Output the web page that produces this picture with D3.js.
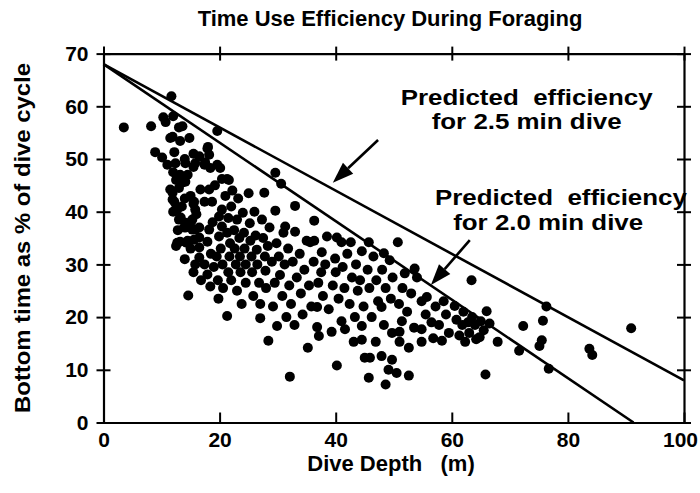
<!DOCTYPE html>
<html><head><meta charset="utf-8">
<script src="https://cdn.jsdelivr.net/npm/d3@7"></script>
<style>body{margin:0;background:#fff}svg{display:block}text{font-family:"Liberation Sans",Arial,sans-serif;font-weight:bold;fill:#000;white-space:pre}</style>
</head><body><div id="chart"></div>
<script>
const title = "Time Use Efficiency During Foraging";
const xLabel = "Dive Depth   (m)";
const yLabel = "Bottom time as % of dive cycle";
const xTicks = [0, 20, 40, 60, 80, 100];
const yTicks = [0, 10, 20, 30, 40, 50, 60, 70];
// predicted efficiency lines: [depth, %]
const line25 = [[0, 68], [100, 8]];
const line20 = [[0, 68], [91.3, 0]];
// annotation text lines: [text, centre depth, baseline %]
const notes25 = [["Predicted  efficiency", 72.9, 60.3], ["for 2.5 min dive", 72.9, 55.6]];
const notes20 = [["Predicted  efficiency", 78.8, 41.2], ["for 2.0 min dive", 76.6, 36.5]];
// arrows: [from depth, from %, to depth, to %]
const arrows = [[47.3, 53.6, 39.5, 45.5], [63.1, 34.6, 56.4, 26.1]];
// observed dives: [depth (m), bottom time %]
const dives = [
[3.5,56],[8.2,56.2],[8.9,51.3],[10.1,50.3],[10.3,57.9],[10.7,57],[11.7,61.9],[11.5,54],[11,48.9],[11.9,54.2],[11.5,44.2],[11.9,42.3],[11.9,43.6],[12,58.1],[12,47.5],[12,40],[12.2,51.3],[12.2,41.9],[12.4,49.2],[12.4,40.4],[12.5,46],[12.5,33.5],[12.7,40.4],[12.7,34.1],[12.8,36.5],
[13,56],[13.2,53.4],[13.6,56.2],[13.2,47],[13,44.5],[13.5,45.5],[13,38.5],[13.3,38.9],[13.2,34.3],[13.5,41],[13.9,37],[14,50],[14.1,49.2],[14.1,45.7],[14,42.5],[14.1,37.9],[14,31],[14.3,34.1],[14.6,24.1],[14.8,54],[14.5,47],[14.5,34.5],[14.2,37],[15,43],[15,38],[15,33],[15.3,36.6],[15.3,38.5],[15.5,51],[15.5,48.5],[15.5,41.5],[15.6,41.9],[15.6,34.7],[15.8,49.2],[15.8,40.4],[15.8,36.6],[15.8,30],[15.5,28.5],
[16,39.5],[16.5,50.5],[16.5,37],[16.5,35.1],[16.5,33.2],[16.5,31.3],[16.7,44.2],[16.8,27],[17.4,48.9],[17.4,41.9],[17.4,30],[17.5,49.4],[17.9,52],[17.9,34.3],[17.9,28.1],[18,52.3],[18.2,50.8],[18.2,44.2],[18.2,36.6],[18.4,48.3],[18.4,25.8],[18.7,41.9],[18.5,32],[18.8,38],[19,29.5],[19.2,45],[19.6,48.9],[19.6,55.3],[19.9,39.1],[19.9,35.3],[19.5,31.5],[19.7,27],[19.8,23.5],
[20.1,48.3],[20.4,46.2],[20.4,40.4],[20.4,37.2],[20.2,33],[20.5,30],[20.6,25.5],[21.3,46.2],[21.3,20.2],[21.3,36],[21.6,46],[21,43],[21.5,38.8],[21.8,34],[21.7,31.5],[21.5,28.5],[22,27],[22,41],[22.2,44],[22.5,36.5],[22.6,33],[22.8,30],[23,38.5],[23,25],[23.2,42.5],[23.4,35],[23.5,31.5],[23.6,28.5],[23.8,22.5],[24,39.8],[24.2,36],[24.3,33],[24.5,30],[24.5,26.5],
[25,43.5],[25.2,37.8],[25.3,34.5],[25.5,31.5],[25.6,28.5],[25.8,24],[26,40],[26.2,35.5],[26.4,32.8],[26.5,30],[26.8,26.5],[27,22.5],[27,19.8],[27.3,38.5],[27.5,35],[27.7,43.6],[27.8,31.5],[27.9,28.8],[28,25.5],[28.4,15.5],[28.3,33.5],[28.6,37],
[29,30.5],[29.2,22],[29.6,40.2],[29.6,47.4],[29.9,18.3],[29.5,26.5],[29.8,34],[30.2,31.5],[30.4,28],[30.6,45.3],[30.8,24],[31,36],[31.3,37.2],[31.2,30],[31.5,20],[31.8,33],[32,26],[32.1,8.7],[32.3,22.5],[32.6,30.5],[33,41.1],[33,36.2],[32.9,18.5],[33.3,27.5],
[33.8,32],[34,24.5],[34.3,20.5],[34.6,29],[35,34.5],[35.2,14.2],[35.4,26],[35.6,34.2],[35.8,22],[36.3,38.3],[36.3,34.5],[36.2,30.5],[36.8,18.1],[36.8,21.9],[37,26.5],[37.1,16.4],[37.6,32.3],[37.5,28.5],[37.8,24],[38.5,35.3],[38.8,21.5],[38.2,30],
[39.3,17.2],[39.9,31.1],[39.5,26],[40.2,35.1],[40.2,10.8],[40,28.5],[40.5,23.5],[41,34.2],[41,19.2],[41.6,17.7],[41.2,29.5],[41.5,25.5],[42,32],[42.6,34.2],[42.4,22.5],[42.8,27.5],[43.1,15.3],[43.5,30],[43.3,20],[43.8,25],[44.5,32.5],[44.5,15.7],[44.5,18.3],[44.2,27],[44.8,22],
[45,12.3],[45.7,8.5],[45.7,34.2],[45.9,12.3],[45.5,29],[45.8,25.5],[46.2,20],[46.9,15.3],[46.5,31.5],[47,27],[47.3,23],[47.9,12.6],[47.9,21.9],[48.3,18.5],[48.3,32.1],[48.6,7.2],[48,29],[48.6,25.5],[49.1,10],[49.3,30.8],[49.7,11.9],[49.7,17],[49.5,23.5],[49.8,27.5],
[50.5,9.4],[50.7,34.2],[50.9,22.5],[51,17.2],[51,15.3],[51.4,19.2],[51.9,28.3],[51.5,25.5],[52.6,8.9],[52.6,14.2],[52.3,21],[53,24.5],[53.6,29.2],[53.5,18],[54,27.5],[54.8,23],[54.8,15.3],[54.8,17.7],[55.5,20.5],[55.7,23.8],
[56.5,19],[56.8,16],[57.2,22],[57.8,18.5],[58.6,23],[58.3,15.5],[59,20.5],[59.5,17],[60.5,22.1],[60.8,19.5],[61.3,16.5],[61.8,18.5],[62,21],[62.3,15.3],[62.8,19],[63.4,27],[63,17],[63.5,20],[64,18.5],[64.2,15.8],[64.8,16.2],[65,19.2],[65.5,17.5],[65.8,9.1],[66,21.1],[66.5,18.8],[67.9,15.3],
[71.6,13.6],[72.3,18.3],[75.1,14.5],[75.5,15.6],[75.7,19.3],[76.3,22],[76.7,10.2],[83.7,14],[84.2,12.8],[90.9,17.9]
];

const W = 700, H = 493;
const m = {left: 103.5, right: 16, top: 53.6, bottom: 70.5};
const svg = d3.select("#chart").append("svg").attr("width", W).attr("height", H);
const x = d3.scaleLinear().domain([0, 100]).range([m.left, W - m.right]);
const y = d3.scaleLinear().domain([0, 70]).range([H - m.bottom, m.top]);

// dots
svg.append("g").selectAll("circle").data(dives).join("circle")
  .attr("cx", d => x(d[0])).attr("cy", d => y(d[1])).attr("r", 5).attr("fill", "#000");

// predicted lines
const lineGen = d3.line().x(d => x(d[0])).y(d => y(d[1]));
[line25, line20].forEach(l => svg.append("path").attr("d", lineGen(l)).attr("fill", "none").attr("stroke", "#000").attr("stroke-width", 2.6));

// frame and axes
const FS = 22, TFS = 21;
const axStyle = g => { g.selectAll("path.domain").attr("stroke", "#000").attr("stroke-width", 2.2); g.selectAll(".tick line").attr("stroke", "#000").attr("stroke-width", 2); };
const gBottom = svg.append("g").attr("transform", `translate(0,${y(0)})`)
  .call(d3.axisBottom(x).tickValues(xTicks).tickSize(-10).tickPadding(10).tickSizeOuter(0));
gBottom.call(axStyle);
gBottom.selectAll("text").attr("font-size", TFS).attr("font-family", "Liberation Sans, Arial, sans-serif").attr("font-weight", "bold")
  .attr("dx", d => d === 100 ? -4 : 0);
const gTop = svg.append("g").attr("transform", `translate(0,${y(70)})`)
  .call(d3.axisTop(x).tickValues(xTicks).tickSize(7).tickFormat("").tickSizeOuter(0));
gTop.call(axStyle);
gTop.selectAll(".tick line").attr("y2", 14).attr("transform", "translate(0,-7)");
const gLeft = svg.append("g").attr("transform", `translate(${x(0)},0)`)
  .call(d3.axisLeft(y).tickValues(yTicks).tickSize(7).tickPadding(8).tickSizeOuter(0));
gLeft.call(axStyle);
gLeft.selectAll(".tick line").attr("x2", 14).attr("transform", "translate(-7,0)");
gLeft.selectAll("text").attr("font-size", TFS).attr("font-family", "Liberation Sans, Arial, sans-serif").attr("font-weight", "bold");
const gRight = svg.append("g").attr("transform", `translate(${x(100)},0)`)
  .call(d3.axisRight(y).tickValues(yTicks).tickSize(7).tickFormat("").tickSizeOuter(0));
gRight.call(axStyle);
gRight.selectAll(".tick line").attr("x2", -14).attr("transform", "translate(7,0)");

// annotations
svg.append("g").selectAll("text").data(notes25.concat(notes20)).join("text")
  .attr("x", d => x(d[1])).attr("y", d => y(d[2])).attr("text-anchor", "middle").attr("font-size", 21.5)
  .attr("textLength", (d, i) => i % 2 === 0 ? 252 : 190).attr("lengthAdjust", "spacingAndGlyphs").text(d => d[0]);
arrows.forEach(a => {
  const x1 = x(a[0]), y1 = y(a[1]), x2 = x(a[2]), y2 = y(a[3]);
  const ang = Math.atan2(y2 - y1, x2 - x1), L = 21, Wd = 7.5;
  const bx = x2 - L * Math.cos(ang), by = y2 - L * Math.sin(ang);
  svg.append("line").attr("x1", x1).attr("y1", y1).attr("x2", bx).attr("y2", by).attr("stroke", "#000").attr("stroke-width", 2.6);
  svg.append("path").attr("d", `M${x2},${y2}L${bx - Wd * Math.sin(ang)},${by + Wd * Math.cos(ang)}L${bx + Wd * Math.sin(ang)},${by - Wd * Math.cos(ang)}Z`).attr("fill", "#000");
});

// titles
svg.append("text").attr("x", 390).attr("y", 26).attr("text-anchor", "middle").attr("font-size", FS).text(title);
svg.append("text").attr("x", 391).attr("y", 471).attr("text-anchor", "middle").attr("font-size", FS).text(xLabel);
svg.append("text").attr("transform", `translate(30,${(y(0) + y(70)) / 2}) rotate(-90)`).attr("text-anchor", "middle").attr("font-size", FS).attr("textLength", 350).attr("lengthAdjust", "spacingAndGlyphs").text(yLabel);
</script></body></html>
